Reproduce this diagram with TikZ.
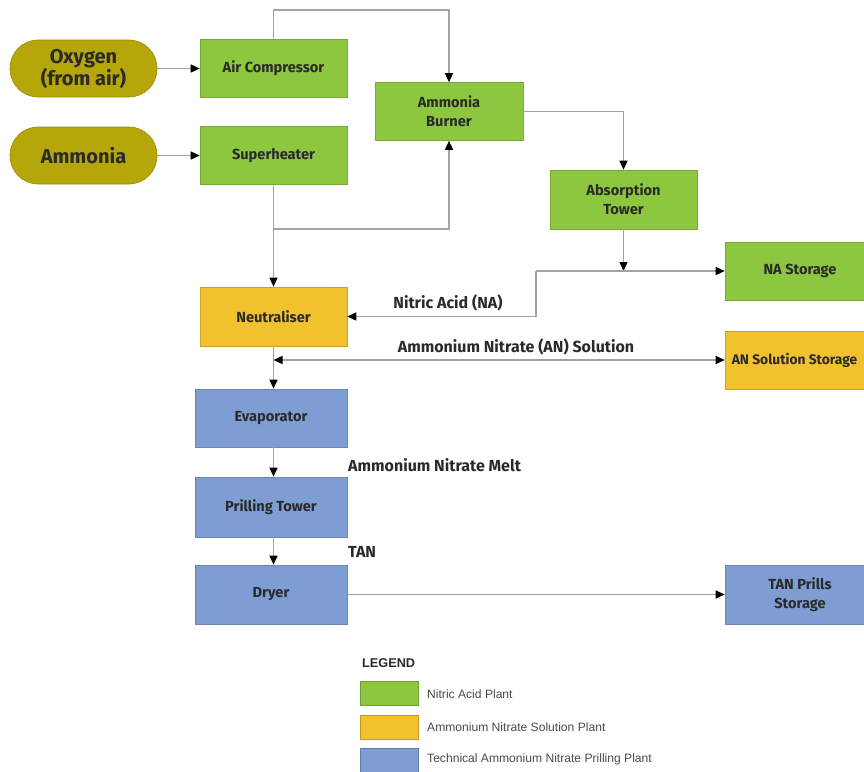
\documentclass[tikz,border=0pt]{standalone}
\usepackage{fontspec}
\setmainfont{Fira Sans}
\newfontfamily\legfont{Liberation Sans}
\usetikzlibrary{arrows.meta}
\definecolor{gbox}{HTML}{8DC63F}
\definecolor{ybox}{HTML}{F2C12E}
\definecolor{bbox}{HTML}{7E9ED3}
\definecolor{pill}{HTML}{B5A60A}
\definecolor{lin}{HTML}{A3A3A3}
\definecolor{txt}{HTML}{2A2A2A}
\tikzset{
  stage/.style={draw=#1!85!black, line width=0.6pt, fill=#1, minimum width=147pt, minimum height=58pt, align=center, font=\bfseries\fontsize{14.6}{19}\selectfont, text=txt, inner sep=0pt},
  pillbox/.style={draw=pill!85!black, line width=0.6pt, fill=pill, rounded corners=28pt, minimum width=147pt, minimum height=57pt, align=center, font=\bfseries\fontsize{20}{22}\selectfont, text=txt, inner sep=0pt},
  flow/.style={draw=lin, line width=1.4pt, -{Triangle[length=9pt,width=8pt,color=black]}},
  flowb/.style={draw=lin, line width=1.4pt, {Triangle[length=9pt,width=8pt,color=black]}-{Triangle[length=9pt,width=8pt,color=black]}},
  lbl/.style={font=\bfseries\fontsize{16}{19}\selectfont, text=txt, inner sep=0pt},
  legbox/.style={draw=#1!80!black, line width=0.6pt, fill=#1, minimum width=58pt, minimum height=24pt, inner sep=0pt},
  legtxt/.style={font=\legfont\fontsize{12.1}{14}\selectfont, text=txt!85, anchor=west, inner sep=0pt}
}
\begin{document}
\begin{tikzpicture}[x=1pt,y=-1pt]
\useasboundingbox (0,0) rectangle (864,771);
\fill[white] (0,0) rectangle (864,771);
% inputs
\node[pillbox] (oxy) at (83.5,68.5) {Oxygen\\(from air)};
\node[pillbox] (amm) at (83.5,155.5) {Ammonia};
% nitric acid plant
\node[stage=gbox] (comp) at (273.5,68.5) {Air Compressor};
\node[stage=gbox] (sup) at (273.5,155.5) {Superheater};
\node[stage=gbox, minimum width=148pt] (burn) at (449,111.5) {Ammonia\\Burner};
\node[stage=gbox, minimum height=59pt] (abs) at (623.5,199.5) {Absorption\\Tower};
\node[stage=gbox, minimum width=150pt] (nas) at (800,271) {NA Storage};
% AN solution plant
\node[stage=ybox, minimum height=59pt] (neut) at (273.5,316.5) {Neutraliser};
\node[stage=ybox, minimum width=139pt, font=\bfseries\fontsize{13.8}{17}\selectfont] (ans) at (794.5,360) {AN Solution Storage};
% prilling plant
\node[stage=bbox, minimum width=152pt] (evap) at (271,418) {Evaporator};
\node[stage=bbox, minimum width=152pt, minimum height=60pt] (prill) at (271,507) {Prilling Tower};
\node[stage=bbox, minimum width=152pt, minimum height=59pt] (dryer) at (271,594.5) {Dryer};
\node[stage=bbox, minimum width=150pt, minimum height=59pt] (tan) at (800,594.5) {TAN Prills\\Storage};
% junctions
\coordinate (jtop) at (273.5,10);
\coordinate (jsup) at (273.5,229);
\coordinate (jabs) at (623.5,271);
\coordinate (jna) at (536,271);
\coordinate (jan) at (273.5,360);
% connectors
\draw[flow] (oxy) -- (comp);
\draw[flow] (amm) -- (sup);
\draw[flow] (comp.north) -- (jtop) -| (burn.north);
\draw[flow] (jsup) -| (burn.south);
\draw[flow] (sup.south) -- (neut.north);
\draw[flow] (burn.east) -| (abs.north);
\draw[flow] (abs.south) -- (jabs);
\draw[flow] (jna) -- (nas.west);
\draw[flow] (jna) |- (neut.east);
\draw[flowb] (jan) -- (ans.west);
\draw[flow] (neut.south) -- (neut.south |- evap.north);
\draw[flow] (evap.south -| neut.south) -- (prill.north -| neut.south);
\draw[flow] (prill.south -| neut.south) -- (dryer.north -| neut.south);
\draw[flow] (dryer.east) -- (tan.west);
% labels
\node[lbl] (lna) at (448,303) {Nitric Acid (NA)};
\node[lbl] (lan) at (516,347) {Ammonium Nitrate (AN) Solution};
\node[lbl, anchor=west] (lmelt) at (348,465) {Ammonium Nitrate Melt};
\node[lbl, anchor=west] (ltan) at (348,552) {TAN};
% legend
\node[font=\legfont\bfseries\fontsize{12.7}{14}\selectfont, text=txt, anchor=west, inner sep=0pt] (leg) at (362,663) {LEGEND};
\node[legbox=gbox] (lg1) at (389,693.5) {};
\node[legbox=ybox] (lg2) at (389,727) {};
\node[legbox=bbox] (lg3) at (389,760) {};
\node[legtxt] (lt1) at (427,694) {Nitric Acid Plant};
\node[legtxt] (lt2) at (427,727) {Ammonium Nitrate Solution Plant};
\node[legtxt] (lt3) at (427,759) {Technical Ammonium Nitrate Prilling Plant};
\end{tikzpicture}
\end{document}
